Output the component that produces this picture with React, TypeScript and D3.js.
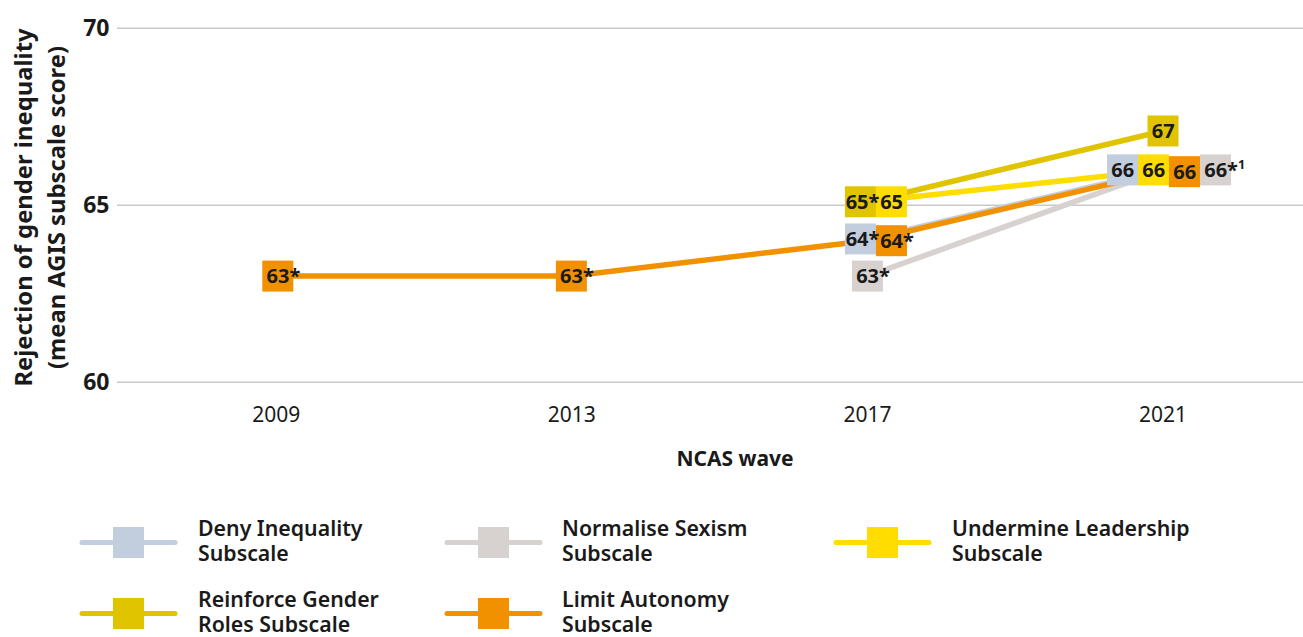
import React from "react";
import * as d3 from "d3";

const years = ["2009", "2013", "2017", "2021"];
const yTicks = [60, 65, 70];

const seriesNames = [
  "Deny Inequality Subscale",
  "Normalise Sexism Subscale",
  "Undermine Leadership Subscale",
  "Reinforce Gender Roles Subscale",
  "Limit Autonomy Subscale",
];
const legendLines = [
  ["Deny Inequality", "Subscale"],
  ["Normalise Sexism", "Subscale"],
  ["Undermine Leadership", "Subscale"],
  ["Reinforce Gender", "Roles Subscale"],
  ["Limit Autonomy", "Subscale"],
];

const denyValues = [null, null, 64.05, 66.0];
const normaliseValues = [null, null, 63.0, 66.0];
const undermineValues = [null, null, 65.1, 66.0];
const reinforceValues = [null, null, 65.1, 67.1];
const limitValues = [63.0, 63.0, 64.0, 65.95];

const denyLabels = ["", "", "64*", "66"];
const normaliseLabels = ["", "", "63*", "66*"];
const undermineLabels = ["", "", "65", "66"];
const reinforceLabels = ["", "", "65*", "67"];
const limitLabels = ["63*", "63*", "64*", "66"];
const normaliseNotes = ["", "", "", "1"];

const seriesValues = [denyValues, normaliseValues, undermineValues, reinforceValues, limitValues];
const seriesLabels = [denyLabels, normaliseLabels, undermineLabels, reinforceLabels, limitLabels];
const seriesNotes = [["", "", "", ""], normaliseNotes, ["", "", "", ""], ["", "", "", ""], ["", "", "", ""]];

// styling (not data)
const colors = ["#c2cede", "#d7d2cf", "#ffdd00", "#e1c400", "#f29100"];
const boxShift = [
  [0, 0, -7, -40.5],
  [0, 0, 0, 52.5],
  [0, 0, 24, -9.5],
  [0, 0, -7, 0],
  [1.5, -0.5, 24, 21.5],
];
const textNudge = [
  [0, 0, -3.5, 0],
  [0, 0, 0, 0],
  [0, 0, 0, 0],
  [0, 0, -3.5, 0],
  [0, 0, 0, 0],
];
const legendPos = [
  { lx: 80, tx: 198, cy: 542.5 },
  { lx: 445, tx: 562, cy: 542.5 },
  { lx: 834, tx: 952, cy: 542.5 },
  { lx: 80, tx: 198, cy: 613.5 },
  { lx: 445, tx: 562, cy: 613.5 },
];

const FONT = "'Noto Sans', 'Open Sans', sans-serif";
const TEXT = "#1a1a1a";

export default function App() {
  const W = 1303;
  const H = 637;
  const x = d3.scalePoint<string>().domain(years).range([276.3, 1163]);
  const y = d3.scaleLinear().domain([60, 70]).range([382.3, 28.3]);
  const BOX = 31;

  const line = d3
    .line<[string, number | null]>()
    .defined((d) => d[1] != null)
    .x((d) => x(d[0]) as number)
    .y((d) => y(d[1] as number));

  return (
    <svg
      width={W}
      height={H}
      style={{ position: "absolute", left: 0, top: 0, background: "#fff" }}
      fontFamily={FONT}
    >
      {/* gridlines */}
      {yTicks.map((t) => (
        <g key={t}>
          <line x1={117} x2={1303} y1={y(t)} y2={y(t)} stroke="#c9c9c9" strokeWidth={1.5} />
          <text x={109.5} y={y(t) + 8} textAnchor="end" fontSize={23} fontWeight={700} fill={TEXT}>
            {t}
          </text>
        </g>
      ))}

      {/* y axis title */}
      <g transform={`translate(32,207.5) rotate(-90)`}>
        <text textAnchor="middle" fontSize={23.8} fontWeight={700} fill={TEXT}>
          Rejection of gender inequality
        </text>
      </g>
      <g transform={`translate(64.5,207.5) rotate(-90)`}>
        <text textAnchor="middle" fontSize={23.8} fontWeight={700} fill={TEXT}>
          (mean AGIS subscale score)
        </text>
      </g>

      {/* x ticks */}
      {years.map((yr) => (
        <text key={yr} x={x(yr)} y={421.5} textAnchor="middle" fontSize={21} fill={TEXT}>
          {yr}
        </text>
      ))}
      <text x={735} y={465.5} textAnchor="middle" fontSize={21} fontWeight={700} fill={TEXT}>
        NCAS wave
      </text>

      {/* lines */}
      {seriesValues.map((vals, si) => (
        <path
          key={si}
          d={line(years.map((yr, i) => [yr, vals[i]]) as [string, number | null][]) || ""}
          fill="none"
          stroke={colors[si]}
          strokeWidth={5.5}
        />
      ))}

      {/* boxes */}
      {seriesValues.map((vals, si) =>
        vals.map((v, i) =>
          v == null ? null : (
            <rect
              key={`${si}-${i}`}
              x={(x(years[i]) as number) + boxShift[si][i] - BOX / 2}
              y={y(v) - BOX / 2}
              width={BOX}
              height={BOX}
              fill={colors[si]}
            />
          )
        )
      )}

      {/* labels */}
      {seriesValues.map((vals, si) =>
        vals.map((v, i) => {
          if (v == null) return null;
          const cx = (x(years[i]) as number) + boxShift[si][i] + textNudge[si][i];
          const lab = seriesLabels[si][i];
          const note = seriesNotes[si][i];
          return (
            <text
              key={`t${si}-${i}`}
              x={cx - 11.3}
              y={y(v) + 7}
              fontSize={20}
              fontWeight={700}
              fill={TEXT}
            >
              {lab}
              {note ? (
                <tspan fontSize={12.5} dy={-7.5}>
                  {note}
                </tspan>
              ) : null}
            </text>
          );
        })
      )}

      {/* legend */}
      {seriesNames.map((name, si) => {
        const p = legendPos[si];
        return (
          <g key={name}>
            <line
              x1={p.lx + 2}
              x2={p.lx + 95}
              y1={p.cy}
              y2={p.cy}
              stroke={colors[si]}
              strokeWidth={5}
              strokeLinecap="round"
            />
            <rect x={p.lx + 48.5 - 15.5} y={p.cy - 15.5} width={31} height={31} fill={colors[si]} />
            <text fontSize={21.3} fontWeight={600} fill={TEXT}>
              <tspan x={p.tx} y={p.cy - 6.8}>
                {legendLines[si][0]}
              </tspan>
              <tspan x={p.tx} y={p.cy + 18.6}>
                {legendLines[si][1]}
              </tspan>
            </text>
          </g>
        );
      })}
    </svg>
  );
}
